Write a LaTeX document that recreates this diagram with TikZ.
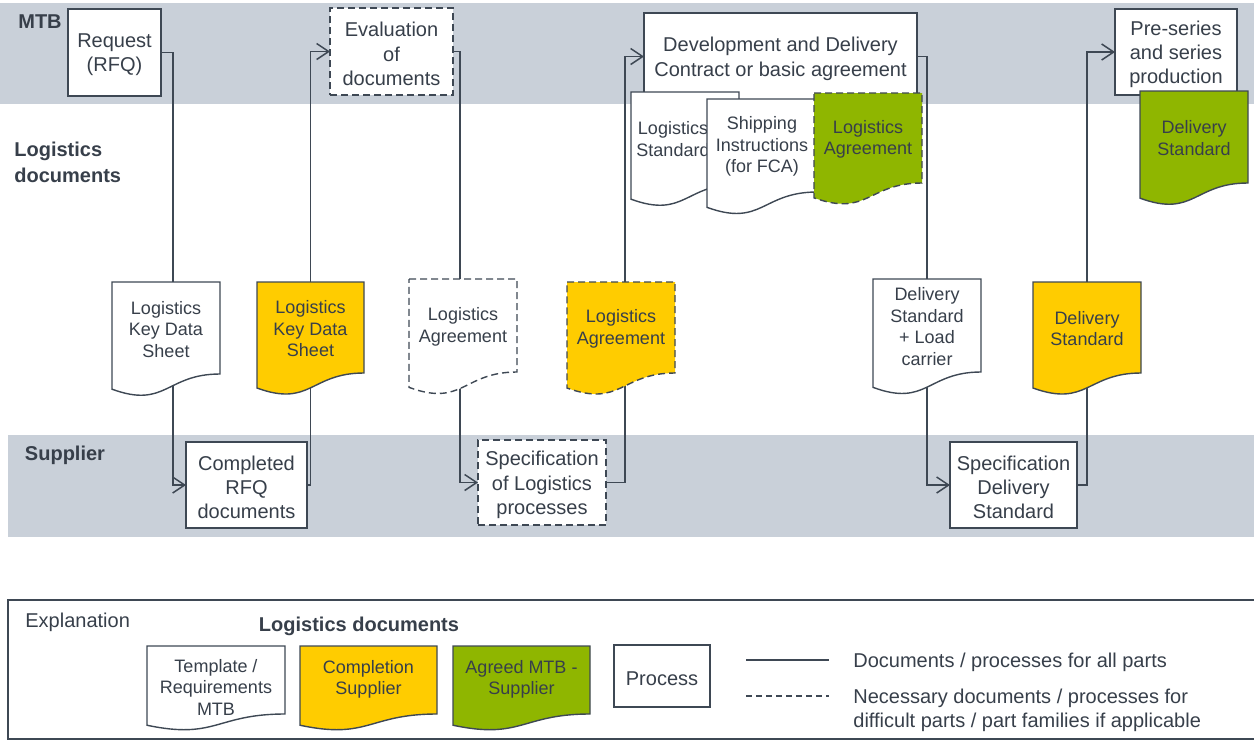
\documentclass[tikz,border=0pt]{standalone}
\usepackage{fontspec}
\setmainfont{Liberation Sans}
\usetikzlibrary{arrows.meta,calc}
\definecolor{band}{RGB}{201,208,217}
\definecolor{ink}{RGB}{62,72,84}
\definecolor{txt}{RGB}{55,63,74}
\definecolor{yel}{RGB}{255,204,0}
\definecolor{grn}{RGB}{143,182,0}
\pgfdeclarelayer{bg}\pgfdeclarelayer{lines}
\pgfsetlayers{bg,lines,main}
\tikzset{
  procbox/.style={draw=ink, line width=0.7pt, fill=white, inner sep=0pt, outer sep=0pt},
  dashbox/.style={procbox, dash pattern=on 3.5pt off 2pt},
  proctext/.style={inner sep=0pt, outer sep=0pt, align=center, text=txt, font=\fontsize{10}{12.2}\selectfont},
  docline/.style={draw=ink, line width=0.7pt, fill=white},
  dashdoc/.style={dash pattern=on 3.5pt off 2pt},
  doctext/.style={inner sep=0pt, outer sep=0pt, align=center, text=txt, font=\fontsize{9}{10.75}\selectfont},
  conn/.style={draw=ink, line width=0.75pt},
  arr/.style={conn, -{Straight Barb[length=6pt,width=8pt]}},
  lbl/.style={text=txt, font=\bfseries\fontsize{10}{12.5}\selectfont, inner sep=0pt, align=left},
  plain/.style={text=txt, font=\fontsize{10}{12}\selectfont, inner sep=0pt, align=left},
}
% box: style, name, x1, y1, x2, y2, text
\newcommand\pbox[7]{%
 \node[#1, minimum width={(#5-#3)*0.5pt}, minimum height={(#6-#4)*0.5pt}] (#2) at ({(#3+#5)/2},{(#4+#6)/2}) {};
 \node[proctext] (#2-t) at ([yshift=-1.2pt]#2.center) {#7};}
% document: path style, name, x1, top, x2, body bottom, text, text options
\newcommand\docnode[8]{%
 \draw[docline,#1] (#3,#4) -- (#5,#4) -- (#5,#6) .. controls ({(#3+#5)/2},#6) and ({(#3+#5)/2},{#4+(#6-#4)*1.38}) .. (#3,{#4+(#6-#4)*1.165}) -- cycle;
 \node[doctext, minimum width={(#5-#3)*0.5pt}, minimum height={(#6-#4)*0.5pt}, yshift=-0.6pt, #8] (#2) at ({(#3+#5)/2},{(#4+#6)/2}) {#7};}
\begin{document}
\begin{tikzpicture}[x=0.5pt,y=-0.5pt]
\useasboundingbox (0,0) rectangle (1254,740);
\begin{pgfonlayer}{bg}
\fill[band] (0,3) rectangle (1254,104);
\fill[band] (8,435) rectangle (1254,537);
\end{pgfonlayer}
% lane labels
\node[lbl, anchor=center] (lmtb) at (40,22) {MTB};
\node[lbl, anchor=west] (ldocs) at (14,162.5) {Logistics\\[0.5pt]documents};
\node[lbl, anchor=center] (lsup) at (65,455) {Supplier};
% top row
\pbox{procbox}{req}{68}{9}{161}{96}{Request\\(RFQ)}
\pbox{dashbox}{eval}{330}{8}{453}{95}{Evaluation\\of\\documents}
\pbox{procbox}{dev}{644}{13}{917}{100}{Development and Delivery\\Contract or basic agreement}
\pbox{procbox}{pre}{1115}{9}{1237}{95}{Pre-series\\and series\\production}
\docnode{}{lstd}{631}{92}{739}{184}{Logistics\\Standard}{xshift=-6pt}
\docnode{}{ship}{707}{99}{817}{192}{Shipping\\Instructions\\(for FCA)}{}
\docnode{fill=grn,dashdoc}{lag}{814}{93}{922}{183}{Logistics\\Agreement}{}
\docnode{fill=grn}{dsg}{1140}{91}{1248}{183}{Delivery\\Standard}{}
% middle row
\docnode{}{lkdsw}{112}{282}{220}{374}{Logistics\\Key Data\\Sheet}{}
\docnode{fill=yel}{lkdsy}{257}{282}{364}{373}{Logistics\\Key Data\\Sheet}{}
\docnode{dashdoc}{law}{409}{279}{517}{372}{Logistics\\Agreement}{}
\docnode{fill=yel,dashdoc}{lay}{567}{282}{675}{373}{Logistics\\Agreement}{}
\docnode{}{dsl}{873}{279}{981}{372}{Delivery\\Standard\\+ Load\\carrier}{}
\docnode{fill=yel}{dsy}{1033}{282}{1141}{373}{Delivery\\Standard}{}
% supplier row
\pbox{procbox}{crfq}{186}{442}{307}{528}{Completed\\RFQ\\documents}
\pbox{dashbox}{slog}{478}{440}{606}{525}{Specification\\of Logistics\\processes}
\pbox{procbox}{sds}{950}{442}{1077}{528}{Specification\\Delivery\\Standard}
% connectors
\begin{pgfonlayer}{lines}
\draw[conn] (req.east) -| ([xshift=3.5pt]lkdsw.north);
\draw[arr] ([xshift=3.5pt]lkdsw.south) |- (crfq.west);
\draw[conn] (crfq.east) -| (lkdsy.south);
\draw[arr] (lkdsy.north) |- (eval.west);
\draw[conn] (eval.east) -| ([xshift=-1.5pt]law.north);
\draw[arr] ([xshift=-1.5pt]law.south) |- (slog.west);
\draw[conn] (slog.east) -| ([xshift=2pt]lay.south);
\draw[arr] ([xshift=2pt]lay.north) |- (dev.west);
\draw[conn] (dev.east) -| (dsl.north);
\draw[arr] (dsl.south) |- (sds.west);
\draw[conn] (sds.east) -| (dsy.south);
\draw[arr] (dsy.north) |- (pre.west);
\end{pgfonlayer}
% legend
\draw[draw=ink, line width=0.75pt] (1256,600) -- (8,600) -- (8,739) -- (1256,739);
\node[plain, anchor=west] (lexp) at (25,622) {Explanation};
\node[lbl, anchor=center] (lhead) at (359,626) {Logistics documents};
\docnode{}{lw}{147}{646}{285}{714}{Template /\\Requirements\\MTB}{yshift=-3pt}
\docnode{fill=yel}{ly}{300}{646}{437}{714}{Completion\\Supplier}{yshift=1pt}
\docnode{fill=grn}{lg}{453}{646}{590}{714}{Agreed MTB -\\Supplier}{yshift=1pt}
\pbox{procbox}{lproc}{614}{645}{710}{707}{Process}
\coordinate (s1) at (746,660); \coordinate (s2) at (829,660);
\coordinate (d1) at (746,696); \coordinate (d2) at (829,696);
\draw[conn] (s1) -- (s2);
\draw[conn, dash pattern=on 3pt off 2pt] (d1) -- (d2);
\node[plain, anchor=west] (tsolid) at (853,662) {Documents / processes for all parts};
\node[plain, anchor=west] (tdash) at (853,710) {Necessary documents / processes for\\difficult parts / part families if applicable};
\end{tikzpicture}
\end{document}
